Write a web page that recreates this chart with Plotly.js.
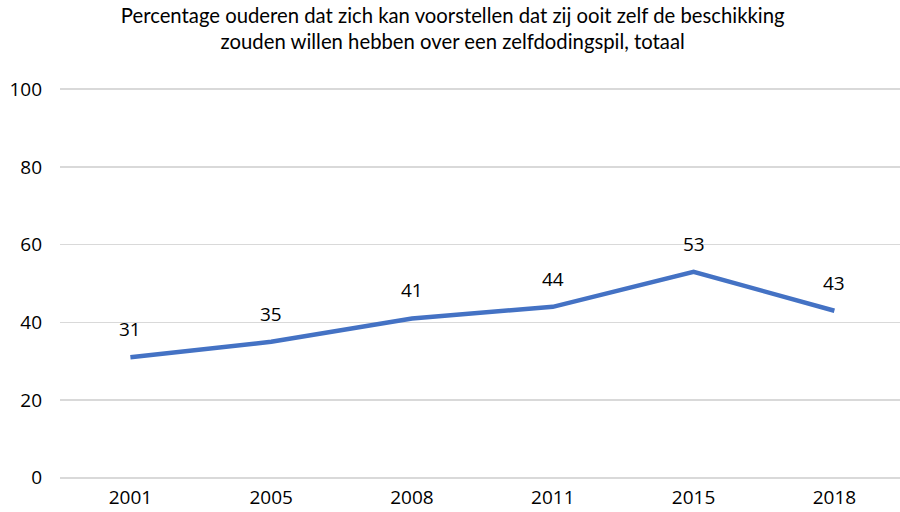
<!DOCTYPE html>
<html><head><meta charset="utf-8">
<script src="https://cdn.plot.ly/plotly-3.0.1.min.js"></script>
<style>html,body{margin:0;padding:0;background:#fff}#c{width:900px;height:512px}</style>
</head><body><div id="c"></div>
<script>
const years = ['2001','2005','2008','2011','2015','2018'];
const values = [31,35,41,44,53,43];
const yTicks = [0,20,40,60,80,100];

const annotations = years.map((y,i)=>({
  x: i, y: values[i], xref:'x', yref:'y', text: String(values[i]),
  showarrow:false, yshift: 28, font:{family:'Open Sans', size:19, color:'#000'}
}));

Plotly.newPlot('c', [{
  x: years, y: values, type:'scatter', mode:'lines',
  line:{color:'#4472C4', width:4.5}, hoverinfo:'none'
}], {
  width:900, height:512,
  margin:{l:60, r:0, t:88, b:33},
  paper_bgcolor:'#fff', plot_bgcolor:'#fff',
  showlegend:false,
  title:{text:'Percentage ouderen dat zich kan voorstellen dat zij ooit zelf de beschikking<br>zouden willen hebben over een zelfdodingspil, totaal',
    font:{family:'Lato, sans-serif', size:20.3, color:'#000'},
    x:0.503, xref:'container', xanchor:'center', y:0.955, yanchor:'top'},
  xaxis:{type:'category', range:[-0.5, 5.466], showgrid:false, zeroline:false, showline:false,
    ticks:'', tickfont:{family:'Open Sans', size:19, color:'#000'}, ticklabelstandoff:5},
  yaxis:{range:[-0.3,100.3], tickvals:yTicks, showgrid:true, gridcolor:'#d9d9d9', gridwidth:1.5,
    zeroline:false, showline:false, ticks:'', ticklabelstandoff:17,
    tickfont:{family:'Open Sans', size:19, color:'#000'}},
  annotations: annotations
}, {staticPlot:true});
</script></body></html>
